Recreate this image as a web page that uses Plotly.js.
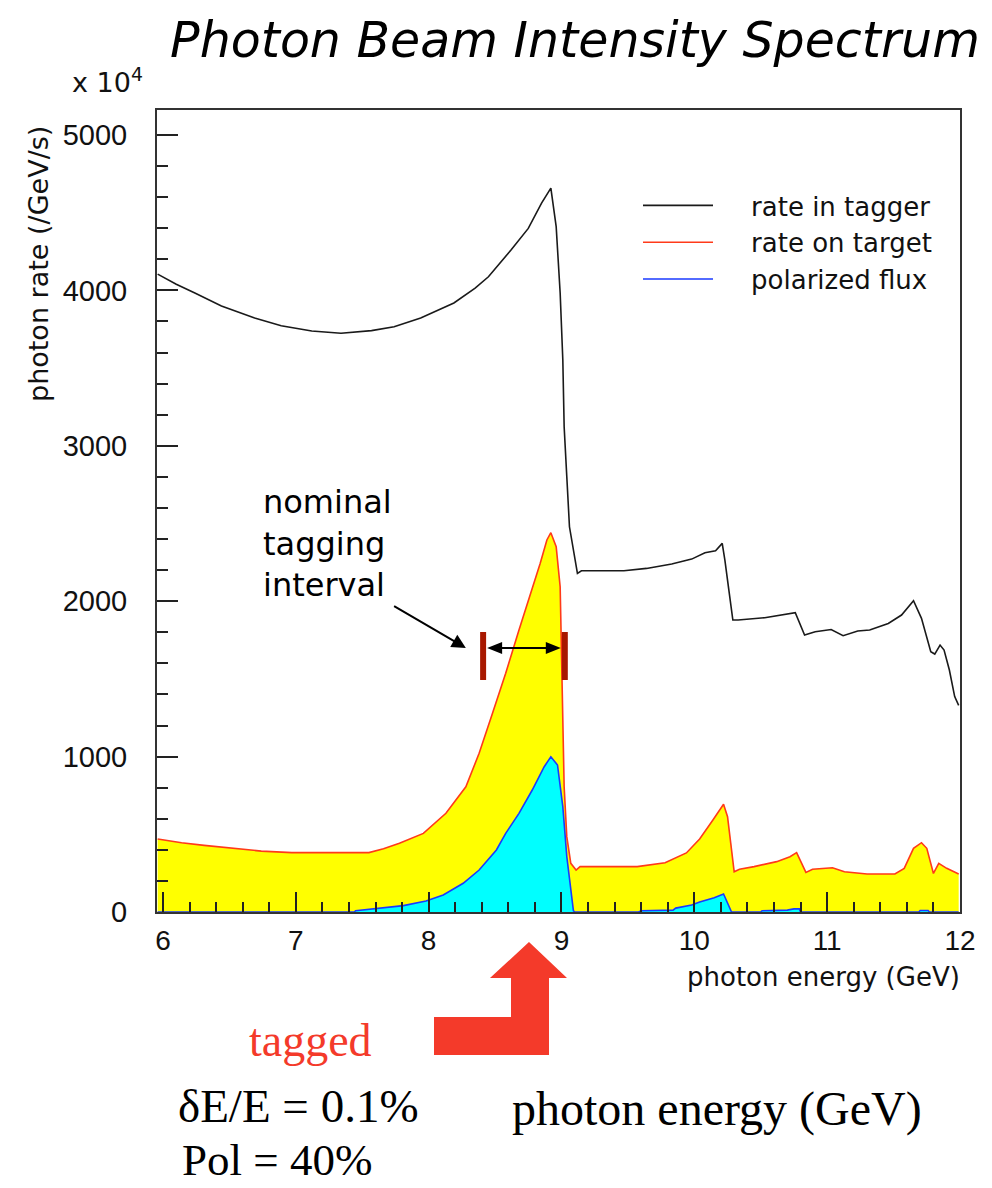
<!DOCTYPE html>
<html>
<head>
<meta charset="utf-8">
<script src="https://cdn.plot.ly/plotly-3.0.1.min.js"></script>
<style>html,body{margin:0;padding:0;background:#fff;}#chart{width:992px;height:1188px;}</style>
</head>
<body>
<div id="chart"></div>
<script>
// ---- data ----
const taggerE = [5.96,6.10,6.24,6.44,6.69,6.89,7.12,7.34,7.57,7.74,7.94,8.19,8.35,8.45,8.62,8.75,8.85,8.92,8.96,8.99,9.01,9.02,9.04,9.06,9.12,9.15,9.47,9.64,9.83,9.98,10.08,10.16,10.21,10.23,10.26,10.29,10.33,10.53,10.76,10.83,10.91,11.03,11.12,11.23,11.32,11.46,11.56,11.65,11.71,11.75,11.78,11.81,11.85,11.88,11.92,11.96,11.99];
const taggerRate = [4105,4040,3983,3900,3822,3773,3739,3724,3741,3766,3822,3919,4015,4088,4260,4399,4562,4658,4410,3983,3552,3123,2801,2479,2179,2196,2196,2211,2239,2271,2312,2325,2372,2265,2072,1879,1879,1894,1926,1782,1804,1818,1778,1808,1815,1857,1911,2003,1890,1772,1675,1660,1718,1686,1557,1386,1330];

const targetE = [5.96,6.14,6.31,6.55,6.74,6.97,7.55,7.66,7.78,7.96,8.13,8.28,8.38,8.48,8.58,8.68,8.76,8.84,8.89,8.92,8.96,8.99,9.00,9.01,9.02,9.04,9.07,9.11,9.14,9.57,9.78,9.94,10.04,10.14,10.19,10.22,10.25,10.28,10.30,10.34,10.45,10.62,10.72,10.77,10.81,10.84,10.89,11.04,11.13,11.30,11.51,11.58,11.65,11.71,11.75,11.80,11.84,11.90,11.99];
const targetRate = [470,446,429,407,392,382,382,407,442,506,635,806,1021,1278,1536,1815,2029,2244,2394,2441,2351,2093,1665,1236,806,485,313,270,292,292,317,380,470,592,656,693,613,420,259,275,292,324,356,382,313,255,275,285,259,245,245,281,410,446,410,248,313,281,245];

const polE = [5.96,7.44,7.45,7.63,7.81,7.98,8.11,8.26,8.38,8.51,8.58,8.68,8.78,8.87,8.92,8.97,9.01,9.04,9.07,9.09,9.10,9.58,9.60,9.84,9.86,9.98,10.04,10.15,10.22,10.25,10.28,10.50,10.51,10.70,10.75,10.79,10.80,11.69,11.70,11.76,11.77,11.99];
const polFlux = [0,0,8,24,41,71,109,185,270,399,506,635,785,935,999,946,678,356,142,8,0,0,8,12,25,45,65,92,116,60,0,0,8,12,20,20,0,0,10,10,0,0];

const seriesNames = ['rate in tagger','rate on target','polarized flux'];
const yTicks = [0,1000,2000,3000,4000,5000];
const xTicks = [6,7,8,9,10,11,12];

// annotation anchors (GeV, rate)
const intervalLow = 8.41, intervalHigh = 9.025, barBottom = 1493, barTop = 1802, arrowLevel = 1699;
const pointerTip = [8.28, 1699], pointerTail = [7.74, 1969];

// ---- page geometry ----
const L = 157, R = 960, T = 110, B = 912;
const xRange = [5.955, 12.0], yRange = [0, 5161];
const P = (x, y) => [(x - L) / (R - L), (B - y) / (B - T)];          // pixel -> paper
const DX = e => (e - xRange[0]) / (xRange[1] - xRange[0]);           // data -> paper
const DY = v => (v - yRange[0]) / (yRange[1] - yRange[0]);
const pxX = 1 / (R - L), pxY = 1 / (B - T);

const pad = '\u00A0\u00A0\u00A0\u00A0';
const traces = [
  {x: taggerE, y: taggerRate, type: 'scatter', mode: 'lines', name: pad + seriesNames[0],
   line: {color: '#1a1a1a', width: 1.6}},
  {x: targetE, y: targetRate, type: 'scatter', mode: 'none', fill: 'tozeroy',
   fillcolor: '#FFFF00', showlegend: false},
  {x: targetE, y: targetRate, type: 'scatter', mode: 'lines', name: pad + seriesNames[1],
   line: {color: '#FF3A1A', width: 1.6}},
  {x: polE, y: polFlux, type: 'scatter', mode: 'none', fill: 'tozeroy',
   fillcolor: '#00FFFF', showlegend: false},
  {x: polE, y: polFlux, type: 'scatter', mode: 'lines', name: pad + seriesNames[2],
   line: {color: '#1A3AFF', width: 1.6}}
];

function pathPaper(pts) {
  return pts.map((q, i) => (i ? 'L' : 'M') + q[0].toFixed(5) + ',' + q[1].toFixed(5)).join(' ') + ' Z';
}
const bigArrow = pathPaper([[529,942],[567,978],[549,978],[549,1055],[434,1055],[434,1017],[511,1017],[511,978],[490,978]].map(p => P(p[0], p[1])));

// double-headed arrow between the interval bars
const hy = DY(arrowLevel), headLen = 15, headHalf = 6;
const leftTip = DX(intervalLow) + 4 * pxX, rightTip = DX(intervalHigh) - 4 * pxX;
const leftHead = pathPaper([[leftTip, hy], [leftTip + headLen * pxX, hy + headHalf * pxY], [leftTip + headLen * pxX, hy - headHalf * pxY]]);
const rightHead = pathPaper([[rightTip, hy], [rightTip - headLen * pxX, hy + headHalf * pxY], [rightTip - headLen * pxX, hy - headHalf * pxY]]);

const rootFont = 'DejaVu Sans';
const serif = 'Liberation Serif, Times New Roman, serif';

const annotations = [
  {xref: 'paper', yref: 'paper', x: P(70,0)[0], y: P(0,80)[1], xanchor: 'left', yanchor: 'middle',
   text: 'x 10<sup>4</sup>', showarrow: false, font: {family: rootFont, size: 27, color: '#111'}},
  {xref: 'paper', yref: 'paper', x: P(38,0)[0], y: P(0,264)[1], xanchor: 'center', yanchor: 'middle',
   textangle: -90, text: 'photon rate (/GeV/s)', showarrow: false, font: {family: rootFont, size: 27, color: '#111'}},
  {xref: 'paper', yref: 'paper', x: P(962,0)[0], y: P(0,977)[1], xanchor: 'right', yanchor: 'middle',
   text: 'photon energy (GeV)', showarrow: false, font: {family: rootFont, size: 26, color: '#111'}},
  {xref: 'x', yref: 'y', x: pointerTip[0], y: pointerTip[1], axref: 'x', ayref: 'y', ax: pointerTail[0], ay: pointerTail[1],
   xanchor: 'right', yanchor: 'bottom', align: 'left',
   text: 'nominal<br>tagging<br>interval', showarrow: true, arrowhead: 2, arrowsize: 1.4, arrowwidth: 2, arrowcolor: '#000',
   font: {family: rootFont, size: 32, color: '#000'}},
  {xref: 'paper', yref: 'paper', x: P(310,0)[0], y: P(0,1040)[1], xanchor: 'center', yanchor: 'middle',
   text: 'tagged', showarrow: false, font: {family: serif, size: 46, color: '#F43A2A'}},
  {xref: 'paper', yref: 'paper', x: P(176,0)[0], y: P(0,1106)[1], xanchor: 'left', yanchor: 'middle',
   text: '\u03B4E/E = 0.1%', showarrow: false, font: {family: serif, size: 47, color: '#000'}},
  {xref: 'paper', yref: 'paper', x: P(180,0)[0], y: P(0,1187)[1], xanchor: 'left', yanchor: 'bottom',
   text: 'Pol = 40%', showarrow: false, font: {family: serif, size: 45, color: '#000'}},
  {xref: 'paper', yref: 'paper', x: P(510,0)[0], y: P(0,1109)[1], xanchor: 'left', yanchor: 'middle',
   text: 'photon energy (GeV)', showarrow: false, font: {family: serif, size: 48, color: '#000'}}
];

const shapes = [
  {type: 'line', xref: 'x', yref: 'y', x0: intervalLow, x1: intervalLow, y0: barBottom, y1: barTop,
   line: {color: '#A81800', width: 6}},
  {type: 'line', xref: 'x', yref: 'y', x0: intervalHigh, x1: intervalHigh, y0: barBottom, y1: barTop,
   line: {color: '#A81800', width: 6}},
  {type: 'line', xref: 'paper', yref: 'paper', x0: leftTip + 8 * pxX, x1: rightTip - 8 * pxX, y0: hy, y1: hy,
   line: {color: '#000', width: 2}},
  {type: 'path', xref: 'paper', yref: 'paper', path: leftHead, fillcolor: '#000', line: {width: 0}},
  {type: 'path', xref: 'paper', yref: 'paper', path: rightHead, fillcolor: '#000', line: {width: 0}},
  {type: 'path', xref: 'paper', yref: 'paper', path: bigArrow, fillcolor: '#F43A2A', line: {width: 0}}
];

const layout = {
  width: 992, height: 1188,
  margin: {l: L, r: 992 - R, t: T, b: 1188 - B},
  paper_bgcolor: '#fff', plot_bgcolor: '#fff',
  showlegend: true,
  title: {text: 'Photon Beam Intensity Spectrum', x: 575 / 992, xanchor: 'center', xref: 'container',
          y: 1 - 40 / 1188, yanchor: 'middle', yref: 'container',
          font: {family: rootFont, size: 49, style: 'italic', color: '#000'}},
  legend: {x: P(638,0)[0], y: P(0,182)[1], xanchor: 'left', yanchor: 'top', bgcolor: 'rgba(0,0,0,0)',
           itemwidth: 70, font: {family: rootFont, size: 26, color: '#111'}},
  xaxis: {range: xRange, tickvals: xTicks, ticktext: xTicks.map(String), ticks: 'inside', ticklen: 20, tickwidth: 2,
          tickcolor: '#222', showline: true, linecolor: '#333', linewidth: 2, mirror: true, showgrid: false, zeroline: false,
          minor: {dtick: 0.2, tick0: 6, ticks: 'inside', ticklen: 10, tickwidth: 2, tickcolor: '#222', showgrid: false},
          ticklabelstandoff: 2, tickfont: {family: 'Liberation Sans, Arial, sans-serif', size: 28, color: '#111'}},
  yaxis: {range: yRange, tickvals: yTicks, ticktext: yTicks.map(String), ticks: 'inside', ticklen: 21, tickwidth: 2,
          tickcolor: '#222', showline: true, linecolor: '#333', linewidth: 2, mirror: true, showgrid: false, zeroline: false,
          minor: {dtick: 200, tick0: 0, ticks: 'inside', ticklen: 11, tickwidth: 2, tickcolor: '#222', showgrid: false},
          ticklabelstandoff: 22, tickfont: {family: 'Liberation Sans, Arial, sans-serif', size: 29, color: '#111'}},
  annotations: annotations,
  shapes: shapes
};

Plotly.newPlot('chart', traces, layout, {staticPlot: true, displayModeBar: false});
</script>
</body>
</html>
